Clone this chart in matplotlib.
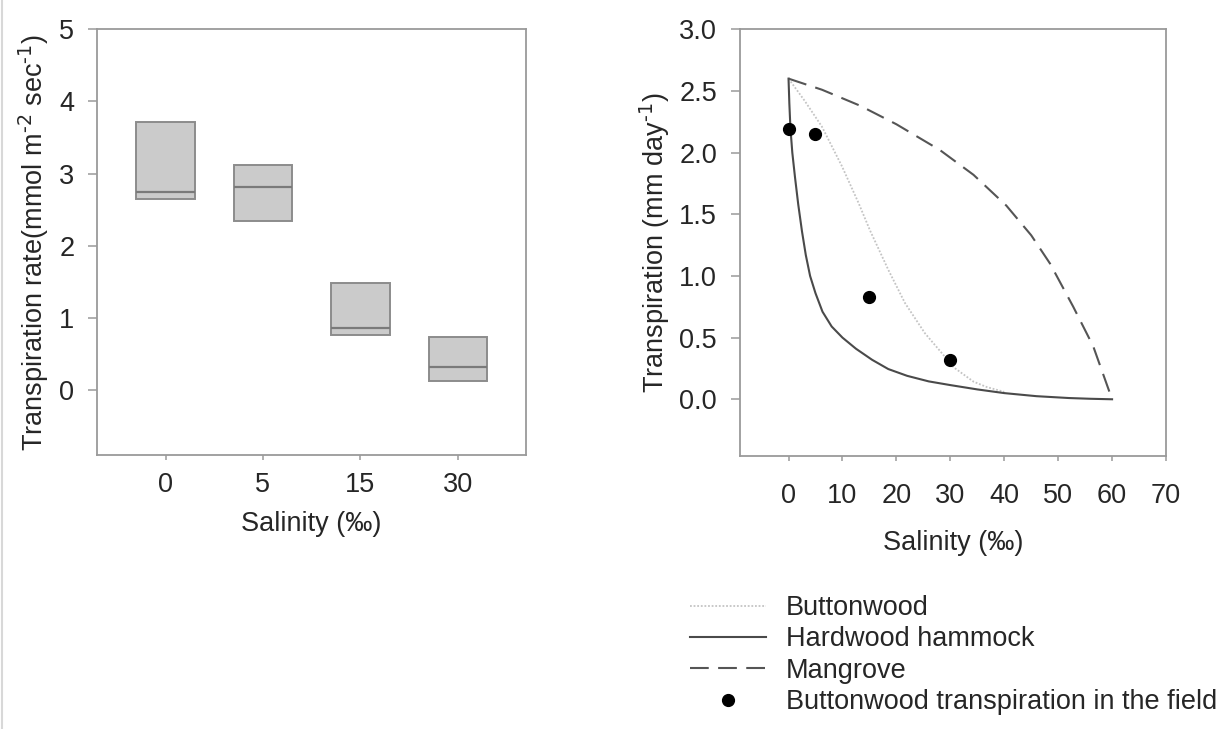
import matplotlib
matplotlib.use("Agg")
import matplotlib.pyplot as plt
from matplotlib.lines import Line2D

plt.rcParams["font.family"] = ["Liberation Sans", "DejaVu Sans"]
plt.rcParams["mathtext.default"] = "regular"

FS = 19.5
TXT = "#262626"
SPINE = "#9a9a9a"

# ---- left panel: transpiration rate boxes by salinity ----
salinity_groups = ["0", "5", "15", "30"]
box_q1 = [2.65, 2.35, 0.76, 0.13]
box_median = [2.75, 2.82, 0.865, 0.32]
box_q3 = [3.72, 3.12, 1.48, 0.74]

# ---- right panel: modelled transpiration curves ----
buttonwood_x = [0, 3.0, 6.2, 9.9, 13.0, 15.1, 18.5, 21.6, 25.3, 29.0, 30.6, 34.3, 36.7, 40.0]
buttonwood_y = [2.6, 2.42, 2.21, 1.89, 1.59, 1.37, 1.05, 0.78, 0.535, 0.345, 0.26, 0.143, 0.10, 0.06]

hardwood_x = [0, 0.15, 0.35, 0.7, 1.2, 1.8, 2.5, 3.2, 4.0, 5.0, 6.3, 8.0, 10.0, 12.5, 15.5,
              18.5, 22.0, 26.0, 30.0, 35.0, 40.0, 46.0, 52.0, 56.0, 60.0]
hardwood_y = [2.6, 2.4, 2.2, 2.0, 1.8, 1.58, 1.36, 1.17, 1.0, 0.86, 0.71, 0.59, 0.50, 0.41,
              0.32, 0.245, 0.19, 0.145, 0.115, 0.08, 0.05, 0.025, 0.01, 0.004, 0.0]

mangrove_x = [0, 6.2, 13.3, 20.0, 28.1, 34.3, 40.4, 45.0, 48.5, 52.8, 56.5, 60.0]
mangrove_y = [2.6, 2.51, 2.38, 2.23, 2.02, 1.82, 1.57, 1.33, 1.10, 0.75, 0.43, 0.0]

field_x = [0, 5, 15, 30]
field_y = [2.19, 2.15, 0.83, 0.32]

fig = plt.figure(figsize=(12.25, 7.29), dpi=100)

W, H = 1225.0, 729.0
def px_axes(x0, y0, x1, y1):
    return fig.add_axes([x0 / W, 1 - y1 / H, (x1 - x0) / W, (y1 - y0) / H])

ax1 = px_axes(97.3, 29.3, 526.0, 455.0)
ax2 = px_axes(740.0, 29.3, 1166.0, 456.0)

for ax in (ax1, ax2):
    for sp in ax.spines.values():
        sp.set_color(SPINE)
        sp.set_linewidth(1.3)
    ax.tick_params(colors=SPINE, labelcolor=TXT, labelsize=FS, width=1.1)
    ax.tick_params(axis="y", length=6.5, pad=10)
    ax.tick_params(axis="x", length=3.5, pad=9)

# left: boxes
stats = []
for lab, lo, med, hi in zip(salinity_groups, box_q1, box_median, box_q3):
    stats.append(dict(label=lab, q1=lo, med=med, q3=hi, whislo=lo, whishi=hi, fliers=[]))
positions = list(range(1, len(salinity_groups) + 1))
ax1.bxp(stats, positions=positions, widths=0.6, patch_artist=True,
        showcaps=False, showfliers=False,
        boxprops=dict(facecolor="#cbcbcb", edgecolor="#8c8c8c", linewidth=1.4),
        medianprops=dict(color="#7a7a7a", linewidth=1.6),
        whiskerprops=dict(color="#8c8c8c", linewidth=0))
ax1.set_xlim(0.3, 4.7)
ax1.set_ylim(-0.9, 5)
ax1.set_yticks([0, 1, 2, 3, 4, 5])
ax1.set_xticks(positions)
ax1.set_xticklabels(salinity_groups)
ax1.set_ylabel(r"Transpiration rate(mmol m$^{\text{-2}}$ sec$^{\text{-1}}$)", fontsize=FS, color=TXT)
ax1.set_xlabel("Salinity (‰)", fontsize=FS, color=TXT)
ax1.yaxis.set_label_coords(-0.108, 0.5)
ax1.xaxis.set_label_coords(0.5, -0.132)

# right: curves and field points
ax2.plot(buttonwood_x, buttonwood_y, color="#c4c4c4", linestyle=(0, (1, 1)), linewidth=1.3,
         label="Buttonwood")
ax2.plot(hardwood_x, hardwood_y, color="#4a4a4a", linestyle="-", linewidth=1.5,
         label="Hardwood hammock")
ax2.plot(mangrove_x, mangrove_y, color="#555555", linestyle=(0, (9, 4.5)), linewidth=1.5,
         label="Mangrove")
ax2.plot(field_x, field_y, linestyle="none", marker="o", markersize=8.5, color="black",
         label="Buttonwood transpiration in the field")
ax2.set_xlim(-9, 70)
ax2.set_ylim(-0.46, 3.0)
ax2.set_xticks(range(0, 71, 10))
ax2.set_yticks([0.0, 0.5, 1.0, 1.5, 2.0, 2.5, 3.0])
ax2.set_yticklabels([f"{v:.1f}" for v in [0.0, 0.5, 1.0, 1.5, 2.0, 2.5, 3.0]])
ax2.tick_params(axis="x", pad=16)
ax2.set_ylabel(r"Transpiration (mm day$^{\text{-1}}$)", fontsize=FS, color=TXT)
ax2.set_xlabel("Salinity (‰)", fontsize=FS, color=TXT)
ax2.yaxis.set_label_coords(-0.16, 0.5)
ax2.xaxis.set_label_coords(0.5, -0.174)

handles, labels = ax2.get_legend_handles_labels()
fig.legend(handles, labels, loc="upper left", bbox_to_anchor=(690 / W, 1 - 595 / H),
           frameon=False, fontsize=FS, labelcolor=TXT, handlelength=2.8,
           handletextpad=0.75, labelspacing=0.2, borderpad=0, borderaxespad=0,
           numpoints=1)

# thin page border at the left edge
fig.add_artist(Line2D([1.5 / W, 1.5 / W], [0, 1], color="#d8d8d8", linewidth=1.5))

fig.savefig("out.png", dpi=100, facecolor="white")
